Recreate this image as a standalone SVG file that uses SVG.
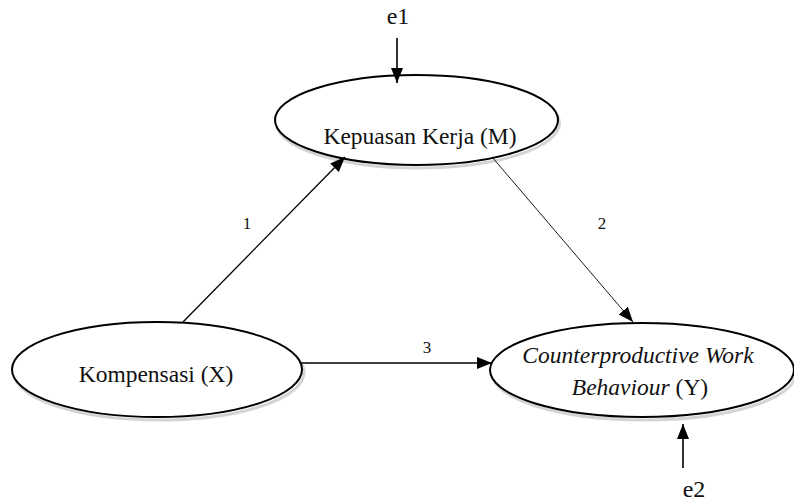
<svg xmlns="http://www.w3.org/2000/svg" width="794" height="504" viewBox="0 0 794 504">
<style>
.node{fill:#fff;stroke:#000;stroke-width:2}
.shadow{fill:none;stroke:#d4d4d4;stroke-width:3}
.lbl{font-family:"Liberation Serif","Times New Roman",serif;font-size:23.5px;fill:#111;text-anchor:middle}
.num{font-family:"Liberation Serif","Times New Roman",serif;font-size:17px;fill:#111;text-anchor:middle}
.err{font-family:"Liberation Serif","Times New Roman",serif;font-size:24px;fill:#111;text-anchor:middle}
.edge{stroke:#000;fill:none}
</style>
<defs>
<marker id="arr" markerUnits="userSpaceOnUse" markerWidth="16" markerHeight="13" refX="15" refY="6" orient="auto">
<path d="M0,0 L15,6 L0,12 z" fill="#000"/>
</marker>
</defs>
<rect width="794" height="504" fill="#fff"/>
<g id="node-M">
<ellipse class="shadow" cx="418" cy="123" rx="141.5" ry="45"/>
<ellipse class="node" cx="416.5" cy="120" rx="141.5" ry="45"/>
<text class="lbl" x="420" y="144">Kepuasan Kerja (M)</text>
</g>
<g id="node-X">
<ellipse class="shadow" cx="159" cy="372.5" rx="145" ry="47.5"/>
<ellipse class="node" cx="157" cy="369.5" rx="145" ry="47.5"/>
<text class="lbl" x="156" y="382">Kompensasi (X)</text>
</g>
<g id="node-Y">
<ellipse class="shadow" cx="644" cy="373" rx="152" ry="47"/>
<ellipse class="node" cx="642" cy="370" rx="152" ry="47"/>
<text class="lbl" x="638" y="363" font-style="italic">Counterproductive Work</text>
<text class="lbl" x="640" y="395"><tspan font-style="italic">Behaviour</tspan> (Y)</text>
</g>
<g id="node-e1">
<text class="err" x="398" y="24">e1</text>
</g>
<g id="node-e2">
<text class="err" x="694" y="497">e2</text>
</g>
<g id="connectors">
<line class="edge" x1="183" y1="322" x2="345" y2="157" stroke-width="1.3" marker-end="url(#arr)"/>
<line class="edge" x1="492" y1="157" x2="633" y2="322" stroke-width="0.9" marker-end="url(#arr)"/>
<line class="edge" x1="300" y1="363" x2="492" y2="363" stroke-width="1.4" marker-end="url(#arr)"/>
<line class="edge" x1="397" y1="38" x2="397" y2="83" stroke-width="1.6" marker-end="url(#arr)"/>
<line class="edge" x1="683" y1="468" x2="683" y2="424" stroke-width="1.6" marker-end="url(#arr)"/>
<text class="num" x="247" y="229">1</text>
<text class="num" x="602" y="229">2</text>
<text class="num" x="427" y="353">3</text>
</g>
</svg>
